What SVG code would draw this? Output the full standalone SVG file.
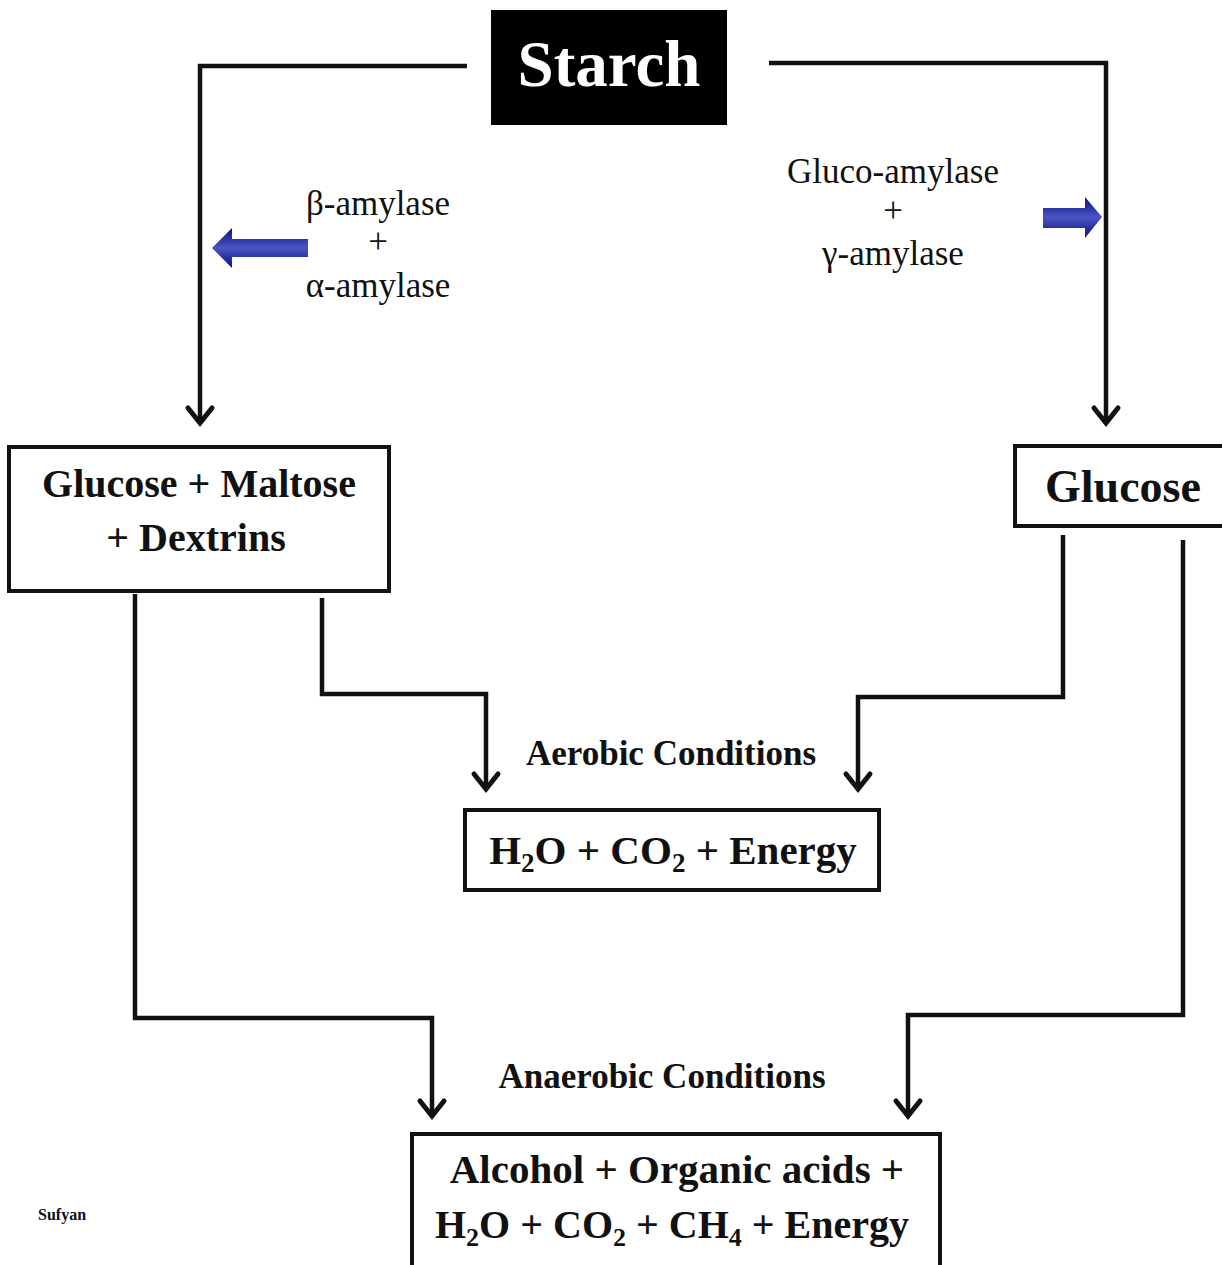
<svg xmlns="http://www.w3.org/2000/svg" width="1222" height="1265" viewBox="0 0 1222 1265">
<defs>
<style>
.ln{fill:none;stroke:#111;stroke-width:4.5;stroke-linejoin:miter}
.ah{fill:none;stroke:#111;stroke-width:5;stroke-linecap:round;stroke-linejoin:miter}
.box{fill:#fff;stroke:#111;stroke-width:4}
.bt{font-family:"Liberation Serif","Times New Roman",serif;font-weight:bold;fill:#111;text-anchor:middle}
.rt{font-family:"Liberation Serif","Times New Roman",serif;fill:#111;text-anchor:middle;font-size:35px}
</style>
<linearGradient id="blue" x1="0" y1="0" x2="0" y2="1">
<stop offset="0" stop-color="#0b1080"/>
<stop offset="0.5" stop-color="#4a55c4"/>
<stop offset="1" stop-color="#0b1080"/>
</linearGradient>
</defs>
<rect width="1222" height="1265" fill="#fff"/>

<g id="connectors">
<path class="ln" d="M467,66 H200 V422"/>
<path class="ah" d="M188,408 L200,423 L212,408"/>
<path class="ln" d="M769,63 H1106 V422"/>
<path class="ah" d="M1094,408 L1106,423 L1118,408"/>
<path class="ln" d="M322,598 V694 H486 V788"/>
<path class="ah" d="M474,774 L486,789 L498,774"/>
<path class="ln" d="M1063,535 V697 H858 V788"/>
<path class="ah" d="M846,774 L858,789 L870,774"/>
<path class="ln" d="M135,594 V1018 H432 V1115"/>
<path class="ah" d="M420,1101 L432,1116 L444,1101"/>
<path class="ln" d="M1183,540 V1015 H908 V1115"/>
<path class="ah" d="M896,1101 L908,1116 L920,1101"/>
<path d="M308,239 H232 V228 L212,248 L232,268 V257 H308 Z" fill="url(#blue)"/>
<path d="M1043,208 H1085 V197 L1102,217 L1085,238 V228 H1043 Z" fill="url(#blue)"/>
</g>

<g id="enzymes-left">
<text class="rt" x="378" y="215">β-amylase</text>
<text class="rt" x="378" y="253">+</text>
<text class="rt" x="378" y="297">α-amylase</text>
</g>
<g id="enzymes-right">
<text class="rt" x="893" y="183">Gluco-amylase</text>
<text class="rt" x="893" y="222">+</text>
<text class="rt" x="893" y="265">γ-amylase</text>
</g>

<g id="starch">
<rect x="491" y="10" width="236" height="115" fill="#000"/>
<text class="bt" x="609" y="86" font-size="65" style="fill:#fff">Starch</text>
</g>

<g id="glucose-maltose-dextrins">
<rect class="box" x="9" y="447" width="380" height="144"/>
<text class="bt" x="199" y="497" font-size="40">Glucose + Maltose</text>
<text class="bt" x="196" y="551" font-size="40">+ Dextrins</text>
</g>

<g id="glucose">
<rect class="box" x="1015" y="446" width="220" height="80"/>
<text class="bt" x="1123" y="502" font-size="46">Glucose</text>
</g>

<g id="aerobic-label">
<text class="bt" x="671" y="765" font-size="35">Aerobic Conditions</text>
</g>

<g id="aerobic-products">
<rect class="box" x="465" y="810" width="414" height="80"/>
<text class="bt" x="673" y="864" font-size="41">H<tspan font-size="27" dy="8">2</tspan><tspan dy="-8">O + CO</tspan><tspan font-size="27" dy="8">2</tspan><tspan dy="-8"> + Energy</tspan></text>
</g>

<g id="anaerobic-label">
<text class="bt" x="662" y="1088" font-size="35">Anaerobic Conditions</text>
</g>

<g id="anaerobic-products">
<rect class="box" x="412" y="1134" width="528" height="140"/>
<text class="bt" x="677" y="1183" font-size="41">Alcohol + Organic acids +</text>
<text class="bt" x="672" y="1238" font-size="40">H<tspan font-size="26" dy="8">2</tspan><tspan dy="-8">O + CO</tspan><tspan font-size="26" dy="8">2</tspan><tspan dy="-8"> + CH</tspan><tspan font-size="26" dy="8">4</tspan><tspan dy="-8"> + Energy</tspan></text>
</g>

<g id="credit">
<text x="38" y="1220" font-family="Liberation Serif, serif" font-weight="bold" font-size="16" fill="#111">Sufyan</text>
</g>
</svg>
